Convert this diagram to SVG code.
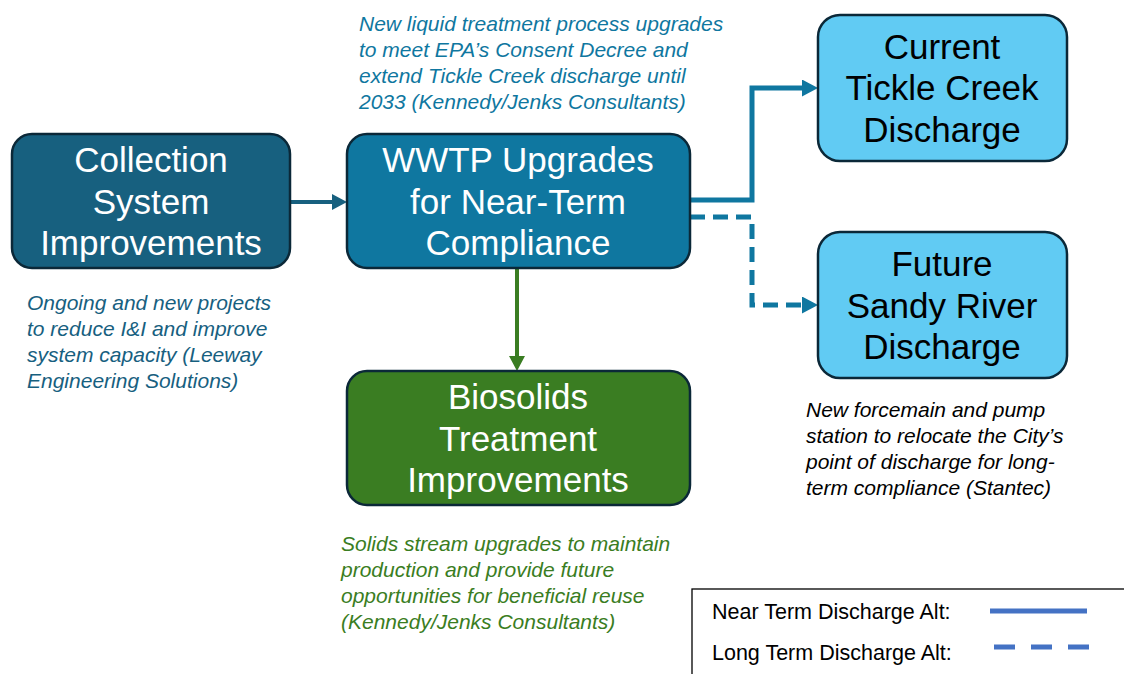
<svg xmlns="http://www.w3.org/2000/svg" width="1124" height="674" viewBox="0 0 1124 674">
<defs>
<style>
.box{stroke:#0b2838;stroke-width:2.5}
.nt{font-family:"Liberation Sans",Arial,sans-serif;font-size:35px;text-anchor:middle}
.ann{font-family:"Liberation Sans",Arial,sans-serif;font-size:21px;font-style:italic}
.leg{font-family:"Liberation Sans",Arial,sans-serif;font-size:21.5px;fill:#000}
</style>
<marker id="ahDark" markerUnits="userSpaceOnUse" markerWidth="15" markerHeight="16" refX="2" refY="8" orient="auto"><path d="M0,0 L15,8 L0,16 z" fill="#17607f"/></marker>
<marker id="ahGreen" markerUnits="userSpaceOnUse" markerWidth="15" markerHeight="16" refX="2" refY="8" orient="auto"><path d="M0,0 L15,8 L0,16 z" fill="#3a7d22"/></marker>
<marker id="ahBlue" markerUnits="userSpaceOnUse" markerWidth="16" markerHeight="17" refX="2" refY="8.5" orient="auto"><path d="M0,0 L16,8.5 L0,17 z" fill="#0f77a0"/></marker>
</defs>
<rect width="1124" height="674" fill="#fff"/>

<g id="connectors" fill="none">
<path d="M290 202 H334" stroke="#17607f" stroke-width="4" marker-end="url(#ahDark)"/>
<path d="M517 268 V358" stroke="#3a7d22" stroke-width="4" marker-end="url(#ahGreen)"/>
<path d="M690 200 H752 V88 H804" stroke="#0f77a0" stroke-width="5" marker-end="url(#ahBlue)"/>
<path d="M690 217 H752 V305 H804" stroke="#0f77a0" stroke-width="5" stroke-dasharray="15 8" marker-end="url(#ahBlue)"/>
</g>

<g id="collection">
<rect class="box" x="12" y="134" width="278" height="134" rx="20" fill="#17607f"/>
<text class="nt" fill="#fff"><tspan x="151" y="172">Collection</tspan><tspan x="151" y="214">System</tspan><tspan x="151" y="255">Improvements</tspan></text>
</g>

<g id="wwtp">
<rect class="box" x="347" y="134" width="343" height="134" rx="20" fill="#0f77a0"/>
<text class="nt" fill="#fff"><tspan x="518" y="172">WWTP Upgrades</tspan><tspan x="518" y="214">for Near-Term</tspan><tspan x="518" y="255">Compliance</tspan></text>
</g>

<g id="biosolids">
<rect class="box" x="347" y="371" width="343" height="134" rx="20" fill="#3a7d22"/>
<text class="nt" fill="#fff"><tspan x="518" y="409">Biosolids</tspan><tspan x="518" y="451">Treatment</tspan><tspan x="518" y="492">Improvements</tspan></text>
</g>

<g id="tickle">
<rect class="box" x="818" y="15" width="249" height="146" rx="22" fill="#61cbf3"/>
<text class="nt" fill="#000"><tspan x="942" y="59">Current</tspan><tspan x="942" y="100">Tickle Creek</tspan><tspan x="942" y="142">Discharge</tspan></text>
</g>

<g id="sandy">
<rect class="box" x="818" y="232" width="249" height="146" rx="22" fill="#61cbf3"/>
<text class="nt" fill="#000"><tspan x="942" y="276">Future</tspan><tspan x="942" y="318">Sandy River</tspan><tspan x="942" y="359">Discharge</tspan></text>
</g>

<g id="ann-wwtp">
<text class="ann" fill="#0f77a0"><tspan x="359" y="31">New liquid treatment process upgrades</tspan><tspan x="359" y="57">to meet EPA’s Consent Decree and</tspan><tspan x="359" y="83">extend Tickle Creek discharge until</tspan><tspan x="359" y="109">2033 (Kennedy/Jenks Consultants)</tspan></text>
</g>

<g id="ann-collection">
<text class="ann" fill="#17607f"><tspan x="27" y="310">Ongoing and new projects</tspan><tspan x="27" y="336">to reduce I&amp;I and improve</tspan><tspan x="27" y="362">system capacity (Leeway</tspan><tspan x="27" y="388">Engineering Solutions)</tspan></text>
</g>

<g id="ann-biosolids">
<text class="ann" fill="#3a7d22"><tspan x="341" y="551">Solids stream upgrades to maintain</tspan><tspan x="341" y="577">production and provide future</tspan><tspan x="341" y="603">opportunities for beneficial reuse</tspan><tspan x="341" y="629">(Kennedy/Jenks Consultants)</tspan></text>
</g>

<g id="ann-sandy">
<text class="ann" fill="#000"><tspan x="806" y="417">New forcemain and pump</tspan><tspan x="806" y="443">station to relocate the City’s</tspan><tspan x="806" y="469">point of discharge for long-</tspan><tspan x="806" y="495">term compliance (Stantec)</tspan></text>
</g>

<g id="legend">
<rect x="692" y="589" width="440" height="100" fill="#fff" stroke="#000" stroke-width="1.3"/>
<text class="leg" x="712" y="619">Near Term Discharge Alt:</text>
<text class="leg" x="712" y="660">Long Term Discharge Alt:</text>
<line x1="990" y1="611" x2="1087" y2="611" stroke="#4472c4" stroke-width="5"/>
<line x1="994" y1="647" x2="1090" y2="647" stroke="#4472c4" stroke-width="5" stroke-dasharray="21 16"/>
</g>
</svg>
